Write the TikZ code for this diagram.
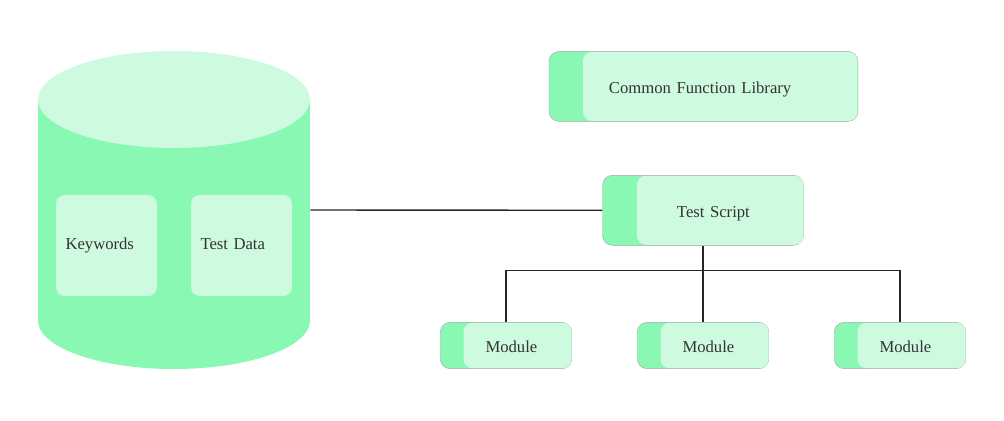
\documentclass[tikz,border=0pt]{standalone}
\usepackage{fontspec}
\setmainfont{Liberation Serif}
\usetikzlibrary{shapes.geometric}
\definecolor{vert}{HTML}{88F8B2}
\definecolor{vertclair}{HTML}{CEFBE0}
\definecolor{texte}{HTML}{333333}
\tikzstyle{outer} = [rectangle, rounded corners=0.25cm, draw=black!35, line width=0.3pt, fill=vert, minimum height=1.75cm]
\tikzstyle{inner} = [rectangle, rounded corners=0.22cm, fill=vertclair, text=texte, minimum height=1.725cm, align=left, text height=11.7pt, text depth=2pt, inner ysep=0pt, font=\fontsize{11.85}{13}\selectfont]
\tikzstyle{boite} = [inner, minimum height=2.525cm, inner xsep=0.2375cm, text width=2.05cm, text height=8.6pt, text depth=3pt]
\tikzstyle{lien} = [line width=1pt, draw=black!85]

\begin{document}
\begin{tikzpicture}
        \useasboundingbox (0,0) rectangle (25.1,10.5);

        \node (corps) [rectangle, fill=vert, minimum width=6.8cm, minimum height=5.525cm, inner sep=0pt] at (4.35,5.25) {};
        \node (dessous) [ellipse, fill=vert, minimum width=6.8cm, minimum height=2.425cm, inner sep=0pt] at (4.35,2.4875) {};
        \node (dessus) [ellipse, fill=vertclair, minimum width=6.8cm, minimum height=2.425cm, inner sep=0pt] at (4.35,8.0125) {};

        \node (keywords) [boite] at (2.6625,4.3625) {Keywords};
        \node (testdata) [boite] at (6.0375,4.3625) {Test Data};

        \node (library) [outer, minimum width=7.725cm] at (17.5875,8.34) {};
        \node (libraryin) [inner, inner xsep=0.65cm, text width=5.5625cm] at (18.006,8.34) {Common Function Library};

        \node (script) [outer, minimum width=5.025cm] at (17.575,5.2425) {};
        \node (scriptin) [inner, inner xsep=1cm, text width=2.1625cm] at (18.006,5.2425) {Test Script};

        \node (modA) [outer, minimum width=3.2875cm, minimum height=1.16cm] at (12.65,1.8625) {};
        \node (modB) [outer, minimum width=3.2875cm, minimum height=1.16cm] at (17.575,1.8625) {};
        \node (modC) [outer, minimum width=3.2875cm, minimum height=1.16cm] at (22.5,1.8625) {};
        \node (modAin) [inner, minimum height=1.135cm, inner xsep=0.55cm, text width=1.6cm] at (12.9375,1.8625) {Module};
        \node (modBin) [inner, minimum height=1.135cm, inner xsep=0.55cm, text width=1.6cm] at (17.8625,1.8625) {Module};
        \node (modCin) [inner, minimum height=1.135cm, inner xsep=0.55cm, text width=1.6cm] at (22.7875,1.8625) {Module};

        \coordinate (bus) at (17.575,3.7375);

        \draw[lien] (corps.east) -- (script.west);
        \draw[lien] (script.south) -- (modB.north);
        \draw[lien] (modA.north) |- (bus) -| (modC.north);

    \end{tikzpicture}
\end{document}
